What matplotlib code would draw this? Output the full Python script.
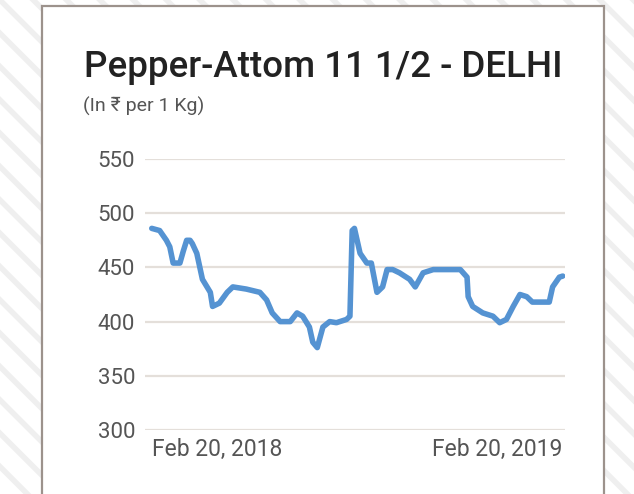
import pandas as pd
import matplotlib
matplotlib.use("Agg")
from matplotlib import pyplot as plt
from matplotlib.patches import Rectangle

# Data (days after Feb 20, 2018 -> price in Rs per kg)
days = [0, 7, 13, 16, 19, 25, 28, 31, 34, 36, 40, 45, 52, 54, 60, 67, 72, 84,
        96, 102, 107, 114, 123, 129, 134, 140, 143, 147, 152, 158, 164, 173,
        176, 178, 180, 185, 191, 195, 200, 205, 209, 214, 220, 229, 234, 241,
        250, 274, 280, 281, 285, 294, 303, 309, 315, 321, 327, 333, 338, 353,
        356, 362, 365]
prices = [486, 484, 475, 469, 454, 454, 465, 475, 475, 472, 463, 439, 427, 414,
          417, 427, 432, 430, 427, 420, 408, 400, 400, 408, 405, 395, 381, 376,
          395, 400, 399, 402, 405, 484, 486, 463, 454, 454, 427, 432, 448, 448,
          445, 439, 432, 445, 448, 448, 441, 423, 414, 408, 405, 399, 402, 414,
          425, 423, 418, 418, 432, 441, 442]
start = pd.Timestamp("2018-02-20")
dates = [start + pd.Timedelta(days=d) for d in days]

yticks = [300, 350, 400, 450, 500, 550]
xtick_dates = [pd.Timestamp("2018-02-20"), pd.Timestamp("2019-02-20")]
xtick_labels = ["Feb 20, 2018", "Feb 20, 2019"]

title = "Pepper-Attom 11 1/2 - DELHI"
subtitle = "(In \u20b9 per 1 Kg)"

fonts = ["Roboto", "Noto Sans", "DejaVu Sans"]
plt.rcParams["font.family"] = fonts
plt.rcParams["hatch.linewidth"] = 4
plt.rcParams["hatch.color"] = "#efefef"

fig = plt.figure(figsize=(6.34, 4.94), dpi=100)
fig.patch.set_facecolor("white")

# striped backdrop and white card
fig.patches.append(Rectangle((0, 0), 1, 1, transform=fig.transFigure,
                             facecolor="white", edgecolor="#efefef",
                             hatch="\\", lw=0, zorder=0))
fig.patches.append(Rectangle((42 / 634, -0.05), 562 / 634, 0.05 + 488 / 494,
                             transform=fig.transFigure, facecolor="white",
                             edgecolor="#9c928c", lw=1.6, zorder=1))

fig.text(84 / 634, 1 - 77 / 494, title, fontsize=26.5, color="#222222",
         fontweight="medium", va="baseline", ha="left", zorder=3)
fig.text(83 / 634, 1 - 106 / 494, subtitle, fontsize=14, color="#555555",
         va="center", ha="left", zorder=3)

ax = fig.add_axes([145 / 634, 64 / 494, 420 / 634, 271 / 494], zorder=2)
ax.set_facecolor("none")
ax.plot(dates, prices, color="#5593d2", lw=4, solid_joinstyle="round",
        solid_capstyle="round")

ax.set_ylim(300, 550)
ax.set_xlim(start - pd.Timedelta(days=6), start + pd.Timedelta(days=367))
ax.set_yticks(yticks)
ax.set_yticklabels([str(v) for v in yticks])
ax.set_xticks(xtick_dates)
ax.set_xticklabels(xtick_labels)
for lab, ha in zip(ax.get_xticklabels(), ["left", "right"]):
    lab.set_ha(ha)

ax.grid(axis="y", color="#e4dfda", lw=1.6)
ax.set_axisbelow(True)
for s in ax.spines.values():
    s.set_visible(False)
ax.tick_params(axis="both", length=0, labelsize=16, colors="#555555")
ax.tick_params(axis="x", labelsize=16.5)
ax.tick_params(axis="y", pad=7)
ax.tick_params(axis="x", pad=6)

fig.savefig("out.png", dpi=100)
